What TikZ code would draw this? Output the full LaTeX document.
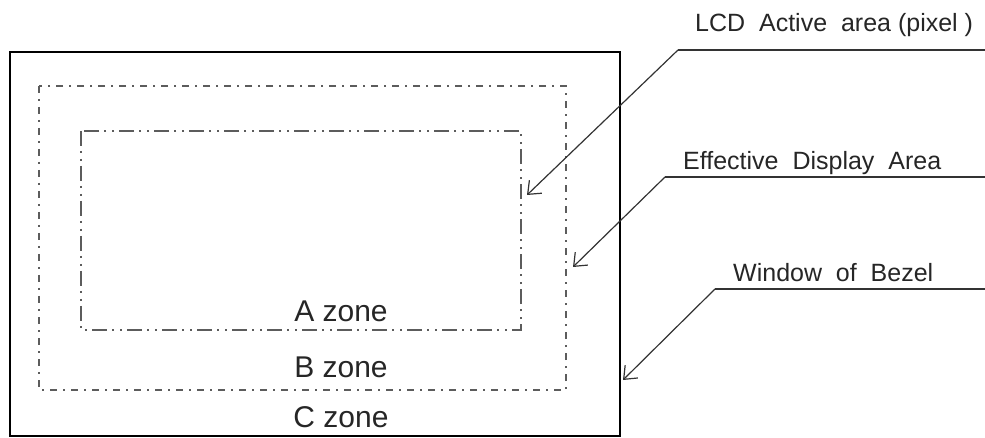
\documentclass[tikz,border=0pt]{standalone}
\usepackage{fontspec}
\setmainfont{Liberation Sans}
\usetikzlibrary{arrows.meta}
\definecolor{linegray}{HTML}{333333}
\tikzset{
  bezel/.style={draw=black, line width=2.6pt},
  effarea/.style={draw=linegray!80, line width=1.1pt, dash pattern=on 7pt off 6pt on 2pt off 6pt},
  lcdarea/.style={draw=linegray!80, line width=1.1pt, dash pattern=on 15pt off 5pt on 2pt off 6pt on 2pt off 5pt},
  zonetext/.style={font=\fontsize{30}{34}\selectfont, anchor=base, inner sep=0pt, text=black!85},
  labeltext/.style={font=\fontsize{25}{29}\selectfont, anchor=base west, inner sep=0pt, text=black!85},
  leader/.style={draw=linegray, line width=1.2pt, -{Straight Barb[length=11pt,width=18pt,line width=1.2pt]}},
  shelf/.style={draw=linegray, line width=1.2pt}
}
\begin{document}
\begin{tikzpicture}[x=1pt, y=-1pt]
\useasboundingbox (0,0) rectangle (985,438);
% boxes
\draw[bezel] (10,52) rectangle (620,436);
\draw[effarea] (39,86) rectangle (566,390);
\draw[lcdarea] (81,131) rectangle (521,330);
% zone texts
\node[zonetext] (za) at (341,321) {A zone};
\node[zonetext] (zb) at (341,377) {B zone};
\node[zonetext] (zc) at (341,427) {C zone};
% labels
\node[labeltext] (llcd) at (695,32) {LCD\ \ Active\ \ area (pixel )};
\node[labeltext] (leff) at (683,170) {Effective\ \ Display\ \ Area};
\node[labeltext] (lwin) at (733,282) {Window\ \ of\ \ Bezel};
% leader geometry
\coordinate (s1) at (678,50);  \coordinate (e1) at (985,50);  \coordinate (t1) at (527,195);
\coordinate (s2) at (665,177); \coordinate (e2) at (985,177); \coordinate (t2) at (573,267);
\coordinate (s3) at (715,289); \coordinate (e3) at (985,289); \coordinate (t3) at (623,380);
\draw[shelf] (e1) -- (s1);
\draw[leader] (s1) -- (t1);
\draw[shelf] (e2) -- (s2);
\draw[leader] (s2) -- (t2);
\draw[shelf] (e3) -- (s3);
\draw[leader] (s3) -- (t3);
\end{tikzpicture}
\end{document}
